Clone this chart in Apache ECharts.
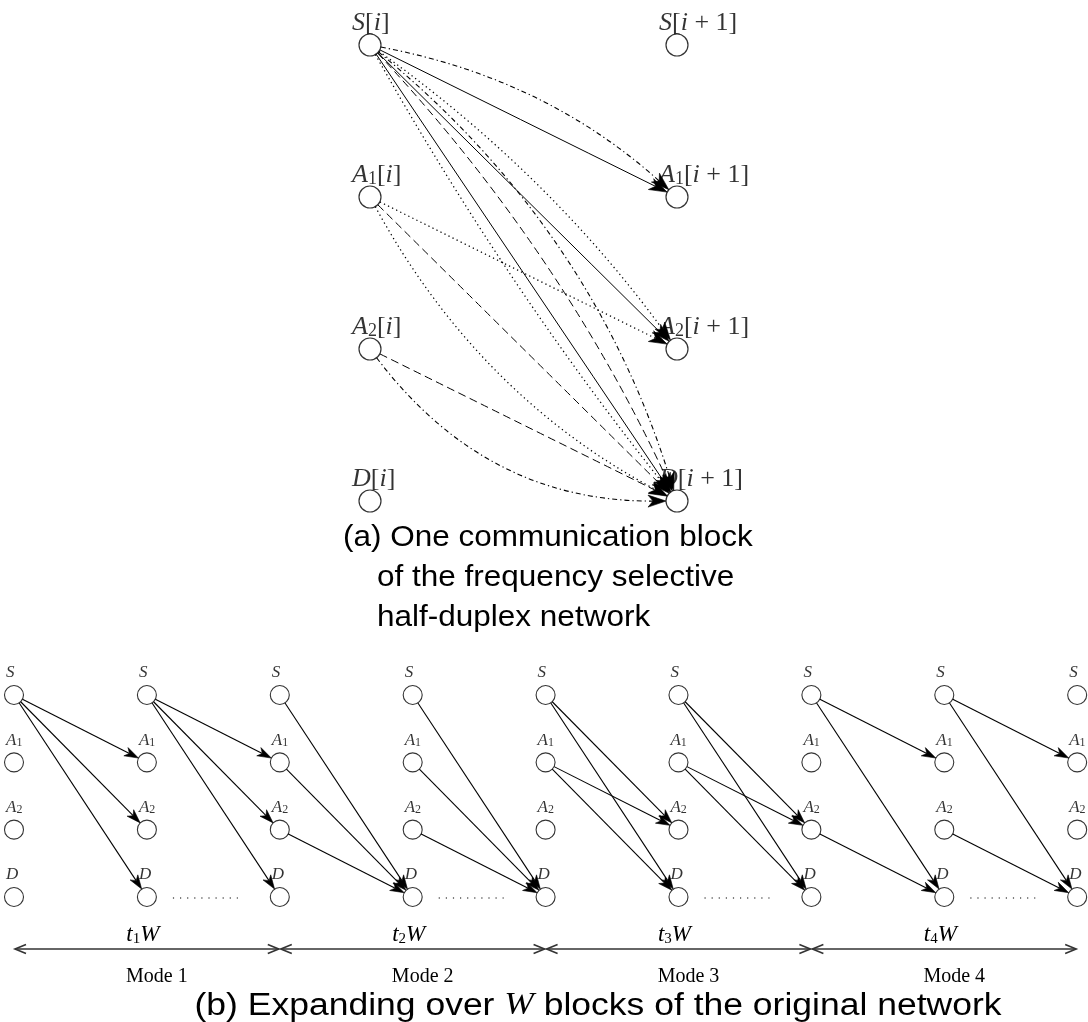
<!DOCTYPE html>
<html><head><meta charset="utf-8">
<script src="https://cdn.jsdelivr.net/npm/echarts@6/dist/echarts.min.js"></script>
<style>html,body{margin:0;padding:0;background:#fff}#c{width:1088px;height:1022px}</style>
</head><body><div id="c"></div>
<script>
// ---------------- data ----------------
const nodes = ['S', 'A1', 'A2', 'D'];                 // rows (top to bottom)
const blockTimes = ['i', 'i + 1'];                     // columns of diagram (a)
const modeNames = ['Mode 1', 'Mode 2', 'Mode 3', 'Mode 4'];
const modeDurations = ['1', '2', '3', '4'];           // t_m W
const mode1Links = [['S', 'A1'], ['S', 'A2'], ['S', 'D']];
const mode2Links = [['S', 'D'], ['A1', 'D'], ['A2', 'D']];
const mode3Links = [['S', 'A2'], ['S', 'D'], ['A1', 'A2'], ['A1', 'D']];
const mode4Links = [['S', 'A1'], ['S', 'D'], ['A2', 'D']];
const blocksPerMode = 2;
const captionA = ['(a) One communication block', 'of the frequency selective', 'half-duplex network'];
const captionB = '(b) Expanding over {w|W} blocks of the original network';

// ---------------- styling ----------------
const modeLinks = [mode1Links, mode2Links, mode3Links, mode4Links];
const modeDash = [null, [8, 4.5], [1.3, 3.2], [5, 3, 1.3, 3]];
const modeWidth = [1, 1, 1.25, 1.1];
const topBend = { '2:S-D': -0.08, '3:S-A2': -0.08, '3:S-D': 0.04, '3:A1-D': 0.15,
                  '4:S-A1': -0.14, '4:S-D': -0.15, '4:A2-D': 0.25 };
const TOP_R = 11, BOT_R = 9.5;
const TOP_ARROW = { len: 18, w: 6, notch: 0.72 };
const BOT_ARROW = { len: 14, w: 4.6, notch: 0.72 };
const serif = 'Liberation Serif', sans = 'Liberation Sans';

function rowOf(n) { return nodes.indexOf(n); }

// derived data
const topEdgeData = [];
modeLinks.forEach((links, m) => links.forEach(([f, t]) => {
  topEdgeData.push([0, rowOf(f), 1, rowOf(t), m, topBend[(m + 1) + ':' + f + '-' + t] || 0]);
}));
const bottomEdgeData = [];
modeLinks.forEach((links, m) => {
  for (let b = 0; b < blocksPerMode; b++) {
    const c = m * blocksPerMode + b;
    links.forEach(([f, t]) => bottomEdgeData.push([c, rowOf(f), c + 1, rowOf(t), m, 0]));
  }
});
const nCols = modeNames.length * blocksPerMode + 1;
const topNodeData = [], bottomNodeData = [];
blockTimes.forEach((bt, c) => nodes.forEach((n, r) => topNodeData.push([c, r, n, bt])));
for (let c = 0; c < nCols; c++) nodes.forEach((n, r) => bottomNodeData.push([c, r, n]));
const ellipsisData = modeNames.map((_, m) => [m * blocksPerMode + 1, rowOf('D')]);
const spanData = modeNames.map((_, m) => [m * blocksPerMode, rowOf('D'), (m + 1) * blocksPerMode, m]);

// ---------------- helpers ----------------
function unit(x, y) { const l = Math.hypot(x, y) || 1; return [x / l, y / l]; }
function edgeShape(a, b, bend, r, arrow, dash, lw) {
  const dx = b[0] - a[0], dy = b[1] - a[1], L = Math.hypot(dx, dy);
  const nx = -dy / L, ny = dx / L;
  const cp = [(a[0] + b[0]) / 2 + nx * bend * L, (a[1] + b[1]) / 2 + ny * bend * L];
  const u1 = unit(cp[0] - a[0], cp[1] - a[1]), u2 = unit(cp[0] - b[0], cp[1] - b[1]);
  const s = [a[0] + u1[0] * r, a[1] + u1[1] * r], e = [b[0] + u2[0] * r, b[1] + u2[1] * r];
  const d = [-u2[0], -u2[1]], px = -d[1], py = d[0];
  const bk = [e[0] - d[0] * arrow.len, e[1] - d[1] * arrow.len];
  const nt = [e[0] - d[0] * arrow.len * arrow.notch, e[1] - d[1] * arrow.len * arrow.notch];
  return { type: 'group', children: [
    { type: 'bezierCurve', shape: { x1: s[0], y1: s[1], x2: nt[0], y2: nt[1], cpx1: cp[0], cpy1: cp[1] },
      style: { stroke: '#000', fill: 'none', lineWidth: lw, lineDash: dash } },
    { type: 'polygon', shape: { points: [e, [bk[0] + px * arrow.w, bk[1] + py * arrow.w], nt, [bk[0] - px * arrow.w, bk[1] - py * arrow.w]] },
      style: { fill: '#000', stroke: '#000', lineWidth: 0.6 } }
  ] };
}
function topLabel(n, bt) {
  const base = { S: '{it|S}', A1: '{it|A}{sb|1}', A2: '{it|A}{sb|2}', D: '{it|D}' }[n];
  return base + (bt === 'i' ? '{rm|[}{it|i}{rm|]}' : '{rm|[}{it|i}{rm| + 1]}');
}
function botLabel(n) { return { S: '{it|S}', A1: '{it|A}{sb|1}', A2: '{it|A}{sb|2}', D: '{it|D}' }[n]; }
const richTop = {
  it: { fontFamily: serif, fontStyle: 'italic', fontSize: 26, color: '#000' },
  rm: { fontFamily: serif, fontSize: 26, color: '#000' },
  sb: { fontFamily: serif, fontSize: 18, color: '#000', verticalAlign: 'bottom', lineHeight: 14 }
};
const richBot = {
  it: { fontFamily: serif, fontStyle: 'italic', fontSize: 17, color: '#000' },
  sb: { fontFamily: serif, fontSize: 12, color: '#000', verticalAlign: 'bottom', lineHeight: 9 }
};
const richT = {
  it: { fontFamily: serif, fontStyle: 'italic', fontSize: 23, color: '#000' },
  sb: { fontFamily: serif, fontSize: 15, color: '#000', verticalAlign: 'bottom', lineHeight: 11 }
};
const capStyle = { font: '30px "' + sans + '"', fill: '#000', align: 'left', verticalAlign: 'middle', textAlign: 'left', textVerticalAlign: 'middle' };

const chart = echarts.init(document.getElementById('c'), null, { renderer: 'canvas' });
chart.setOption({
  animation: false,
  backgroundColor: '#fff',
  grid: [
    { left: 216.5, top: 7, width: 614, height: 532, outerBoundsMode: 'none' },
    { left: 0.71, top: 661.33, width: 1087.1, height: 336.67, outerBoundsMode: 'none' }
  ],
  xAxis: [
    { gridIndex: 0, type: 'value', min: -0.5, max: 1.5, show: false },
    { gridIndex: 1, type: 'value', min: -0.1, max: 8.08, show: false }
  ],
  yAxis: [
    { gridIndex: 0, type: 'value', min: -0.25, max: 3.25, inverse: true, show: false },
    { gridIndex: 1, type: 'value', min: -0.5, max: 4.5, inverse: true, show: false }
  ],
  graphic: [
    { type: 'text', x: 343, y: 538, scaleX: 1.05, style: Object.assign({ text: captionA[0] }, capStyle) },
    { type: 'text', x: 377, y: 578, scaleX: 1.05, style: Object.assign({ text: captionA[1] }, capStyle) },
    { type: 'text', x: 377, y: 618, scaleX: 1.05, style: Object.assign({ text: captionA[2] }, capStyle) },
    { type: 'text', x: 598, y: 1006, scaleX: 1.145, style: { text: captionB, font: '31px "' + sans + '"', fill: '#000', align: 'center', verticalAlign: 'middle', textAlign: 'center', textVerticalAlign: 'middle',
      rich: { w: { fontFamily: serif, fontStyle: 'italic', fontSize: 31, color: '#000' } } } }
  ],
  series: [
    { type: 'custom', name: 'topEdges', xAxisIndex: 0, yAxisIndex: 0, data: topEdgeData, silent: true,
      renderItem: (p, api) => edgeShape(api.coord([api.value(0), api.value(1)]), api.coord([api.value(2), api.value(3)]),
        api.value(5), TOP_R, TOP_ARROW, modeDash[api.value(4)], modeWidth[api.value(4)]) },
    { type: 'scatter', name: 'topNodes', xAxisIndex: 0, yAxisIndex: 0, data: topNodeData, symbol: 'circle', symbolSize: 22, silent: true,
      itemStyle: { color: 'rgba(255,255,255,0)', borderColor: '#000', borderWidth: 1.2 },
      label: { show: true, position: 'inside', align: 'left', verticalAlign: 'middle', offset: [-18, -22], color: '#000', textBorderWidth: 0,
        formatter: p => topLabel(p.data[2], p.data[3]), rich: richTop } },
    { type: 'custom', name: 'bottomEdges', xAxisIndex: 1, yAxisIndex: 1, data: bottomEdgeData, silent: true,
      renderItem: (p, api) => edgeShape(api.coord([api.value(0), api.value(1)]), api.coord([api.value(2), api.value(3)]),
        0, BOT_R, BOT_ARROW, null, 1.1) },
    { type: 'scatter', name: 'bottomNodes', xAxisIndex: 1, yAxisIndex: 1, data: bottomNodeData, symbol: 'circle', symbolSize: 19, silent: true,
      itemStyle: { color: 'rgba(255,255,255,0)', borderColor: '#000', borderWidth: 1.1 },
      label: { show: true, position: 'inside', align: 'left', verticalAlign: 'middle', offset: [-8, -22], color: '#000', textBorderWidth: 0,
        formatter: p => botLabel(p.data[2]), rich: richBot } },
    { type: 'custom', name: 'ellipsis', xAxisIndex: 1, yAxisIndex: 1, data: ellipsisData, silent: true,
      renderItem: (p, api) => {
        const a = api.coord([api.value(0), api.value(1)]);
        return { type: 'line', shape: { x1: a[0] + 26, y1: a[1] + 1, x2: a[0] + 91, y2: a[1] + 1 },
          style: { stroke: '#000', lineWidth: 1.2, lineDash: [1.2, 5.9] } };
      } },
    { type: 'custom', name: 'modes', xAxisIndex: 1, yAxisIndex: 1, data: spanData, silent: true,
      renderItem: (p, api) => {
        const m = api.value(3);
        const a = api.coord([api.value(0), api.value(1)]), b = api.coord([api.value(2), api.value(1)]);
        const mid = api.coord([api.value(0) + blocksPerMode / 2, api.value(1)])[0];
        const y = a[1] + 52, x1 = a[0] + 1, x2 = b[0] - 1;
        const st = { stroke: '#333', lineWidth: 1.6, fill: 'none' };
        return { type: 'group', children: [
          { type: 'line', shape: { x1: x1, y1: y, x2: x2, y2: y }, style: st },
          { type: 'polyline', shape: { points: [[x1 + 11, y - 4.5], [x1, y], [x1 + 11, y + 4.5]] }, style: st },
          { type: 'polyline', shape: { points: [[x2 - 11, y - 4.5], [x2, y], [x2 - 11, y + 4.5]] }, style: st },
          { type: 'text', x: mid - 4, y: y - 14, style: { text: '{it|t}{sb|' + modeDurations[m] + '}{it|W}', rich: richT, fill: '#000',
              align: 'center', verticalAlign: 'middle', textAlign: 'center', textVerticalAlign: 'middle' } },
          { type: 'text', x: mid + 10, y: y + 28, style: { text: modeNames[m], fontFamily: serif, fontSize: 20, fill: '#000',
              align: 'center', verticalAlign: 'middle', textAlign: 'center', textVerticalAlign: 'middle' } }
        ] };
      } }
  ]
});
</script>
</body></html>
